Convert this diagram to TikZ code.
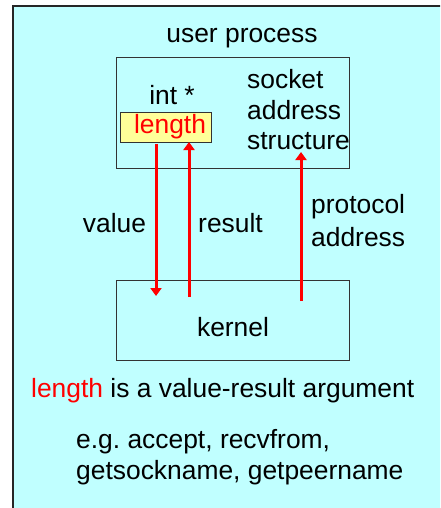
\documentclass[tikz,border=0pt]{standalone}
\usepackage{fontspec}
\setmainfont{Liberation Sans}
\usetikzlibrary{arrows.meta}
\definecolor{bgcyan}{RGB}{192,255,255}
\definecolor{boxyellow}{RGB}{255,255,153}
\definecolor{edge}{RGB}{51,51,51}
\begin{document}
\begin{tikzpicture}[x=1pt,y=-1pt,
  txt/.style={inner sep=0pt,font=\fontsize{26.4}{31}\selectfont},
  box/.style={draw=edge,line width=0.9pt},
  flow/.style={draw=red,line width=3pt,-{Triangle[width=11pt,length=8pt]}}]
\useasboundingbox (0,0) rectangle (440,508);
\clip (0,0) rectangle (440,508);
\fill[white] (0,0) rectangle (440,508);
\draw[fill=bgcyan,draw=black!85,line width=2pt] (13,6) rectangle (460,530);
% user process box
\node[box,minimum width=233pt,minimum height=111pt,anchor=north west,inner sep=0pt] (user) at (116,57) {};
\node[txt] (ulabel) at (242,38) {user process};
\node[txt] (int) at (172,95) {int *};
\node[box,fill=boxyellow,minimum width=91pt,minimum height=30pt,anchor=north west,inner sep=0pt] (len) at (120,112) {};
\node[txt,text=red] (lentxt) at (170,127) {length};
\node[txt,anchor=west] (sock) at (247,79) {socket};
\node[txt,anchor=west] (addr) at (247,110) {address};
\node[txt,anchor=west] (struct) at (247,141) {structure};
% kernel box
\node[box,minimum width=233pt,minimum height=80pt,anchor=north west,inner sep=0pt] (kern) at (116,280) {};
\node[txt] (ktxt) at (233,327) {kernel};
% arrow endpoints
\coordinate (vtop) at (156,144);
\coordinate (vbot) at (156,296);
\coordinate (rbot) at (189,297);
\coordinate (rtop) at (189,142);
\coordinate (pbot) at (301,301);
\coordinate (ptop) at (301,152);
\draw[flow] (vtop) -- (vbot);
\draw[flow] (rbot) -- (rtop);
\draw[flow] (pbot) -- (ptop);
% labels
\node[txt] (value) at (114.5,223) {value};
\node[txt] (result) at (230.5,223) {result};
\node[txt,anchor=west] (proto) at (311,207) {protocol};
\node[txt,anchor=west] (paddr) at (311,237) {address};
\node[txt,anchor=west] (note) at (31,391) {\textcolor{red}{length} is a value-result argument};
\node[txt,anchor=west] (eg1) at (76,442) {e.g.\ accept, recvfrom,};
\node[txt,anchor=west] (eg2) at (76,473) {getsockname, getpeername};
\end{tikzpicture}
\end{document}
